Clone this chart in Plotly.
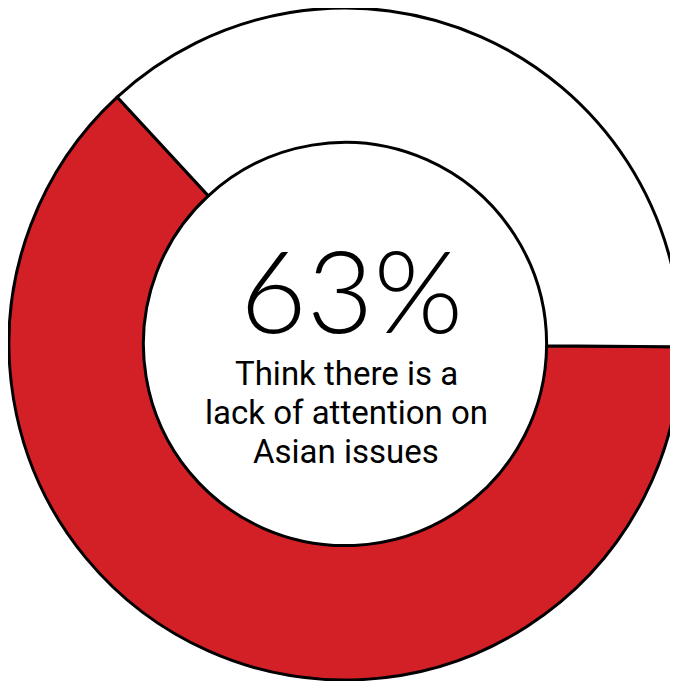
import plotly.graph_objects as go

labels = ["Lack of attention", "Other"]
values = [63, 37]
colors = ["#D32027", "#FFFFFF"]
headline = "63%"
caption_lines = ["Think there is a", "lack of attention on", "Asian issues"]

# the page body adds an 8px margin; figure coordinates below are relative to the figure
W, H = 673, 673
L, R, T, B = 1, 0, 0, 1
pw, ph = W - L - R, H - T - B


def px(x):
    return (x - L) / pw


def py(y):
    return 1 - (y - T) / ph


fig = go.Figure(
    go.Pie(
        labels=labels,
        values=values,
        hole=0.6,
        sort=False,
        direction="clockwise",
        rotation=90.5,
        marker=dict(colors=colors, line=dict(color="#000000", width=3)),
        textinfo="none",
        hoverinfo="none",
        showlegend=False,
    )
)

annotations = [
    dict(
        x=px(343), y=py(280), xref="paper", yref="paper",
        text=headline, showarrow=False, xanchor="center", yanchor="middle",
        font=dict(family="Lato", size=115, color="#000000", weight=300),
    )
]
for i, line in enumerate(caption_lines):
    annotations.append(
        dict(
            x=px(338), y=py(366 + i * 38.5), xref="paper", yref="paper",
            text=line, showarrow=False, xanchor="center", yanchor="middle",
            font=dict(family="Roboto", size=33, color="#000000"),
        )
    )

fig.update_layout(
    width=W, height=H, autosize=False,
    margin=dict(l=L, r=R, t=T, b=B),
    paper_bgcolor="#FFFFFF", plot_bgcolor="#FFFFFF",
    annotations=annotations,
)
fig.write_html("out.html")
